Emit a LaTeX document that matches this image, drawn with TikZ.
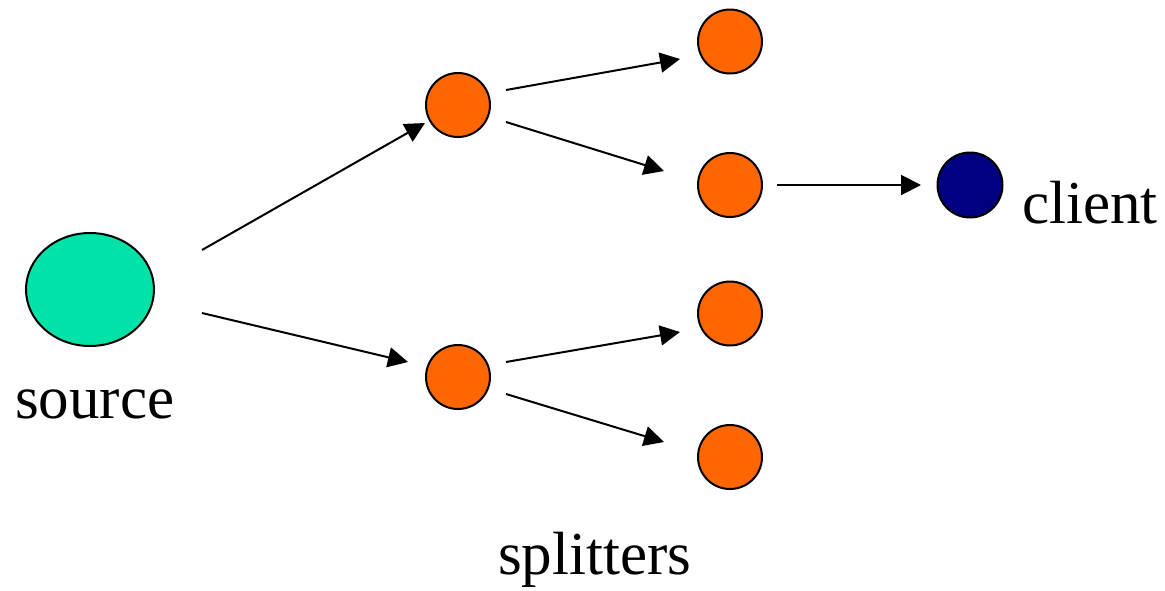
\documentclass[tikz,border=0pt]{standalone}
\usepackage{fontspec}
\setmainfont{Liberation Serif}
\usetikzlibrary{arrows.meta,calc,shapes.geometric}
\definecolor{srcgreen}{HTML}{00E3A8}
\definecolor{splorange}{HTML}{FF6600}
\definecolor{clnavy}{HTML}{000080}
\tikzset{
  dot/.style={circle,draw=black,line width=2pt,minimum size=64pt,inner sep=0pt,fill=splorange},
  arr/.style={line width=2pt,-{Triangle[length=20pt,width=20pt]}},
  lbl/.style={inner sep=0pt,anchor=base west,font=\fontsize{61}{70}\selectfont}
}
\begin{document}
\begin{tikzpicture}[x=1pt,y=-1pt]
\useasboundingbox (0,0) rectangle (1165,590);
\node[ellipse,draw=black,line width=2pt,fill=srcgreen,minimum width=128pt,minimum height=113pt,inner sep=0pt] (src) at (90,289.5) {};
\node[dot] (s1) at (458,105) {};
\node[dot] (s2) at (458,377) {};
\node[dot] (r1) at (730,41.5) {};
\node[dot] (r2) at (730,185) {};
\node[dot] (r3) at (730,313.5) {};
\node[dot] (r4) at (730,457) {};
\node[dot,fill=clnavy,minimum size=65pt] (cl) at (970,185) {};
\node[lbl] (tsrc) at (15,418) {source};
\node[lbl] (tspl) at (498,574) {splitters};
\node[lbl] (tcl) at (1022,223) {client};
\draw[arr] ($(src)+(112,-39.5)$) -- ($(s1)+(-33,18)$);
\draw[arr] ($(src)+(112,23.5)$) -- ($(s2)+(-50,-15)$);
\draw[arr] ($(s1)+(48,-15)$) -- ($(r1)+(-50,17.5)$);
\draw[arr] ($(s1)+(48,17)$) -- ($(r2)+(-66,-14)$);
\draw[arr] ($(s2)+(48,-15)$) -- ($(r3)+(-50,18.5)$);
\draw[arr] ($(s2)+(48,17)$) -- ($(r4)+(-66,-15)$);
\draw[arr] ($(r2)+(47,0)$) -- ($(cl)+(-49,0)$);
\end{tikzpicture}
\end{document}
